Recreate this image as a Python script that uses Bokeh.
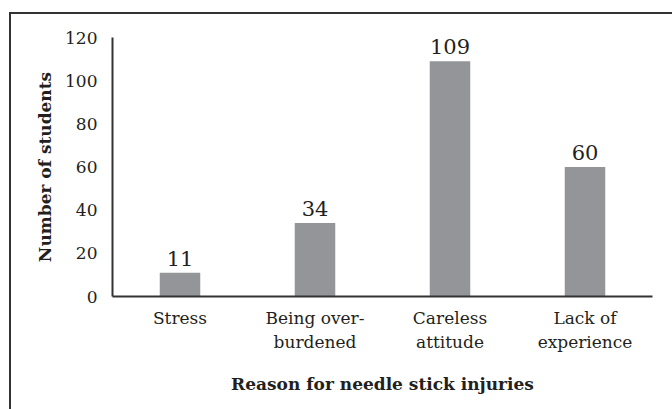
from bokeh.plotting import figure
from bokeh.models import ColumnDataSource, FactorRange, InlineStyleSheet
from bokeh.core.properties import value
from bokeh.embed import file_html
from bokeh.resources import INLINE

categories = ["Stress", "Being over-\nburdened", "Careless\nattitude", "Lack of\nexperience"]
counts = [11, 34, 109, 60]
y_ticks = [0, 20, 40, 60, 80, 100, 120]

FONT = "DejaVu Serif"
TXT = "#231f20"

src = ColumnDataSource(dict(cat=categories, n=counts, lbl=[str(v) for v in counts]))

p = figure(width=672, height=409, x_range=FactorRange(*categories, range_padding=0),
           y_range=(0, 120), output_backend="svg", toolbar_location=None,
           min_border_left=112, min_border_right=20, min_border_top=37, min_border_bottom=113)
p.outline_line_color = None
p.grid.grid_line_color = None
p.background_fill_color = "white"
p.border_fill_color = "white"

p.vbar(x="cat", top="n", width=0.30, source=src, fill_color="#939598", line_color=None)
p.text(x="cat", y="n", text="lbl", source=src, text_align="center", text_baseline="bottom",
       y_offset=-7, text_font=value(FONT), text_font_size="21px", text_color=TXT)

for ax in (p.xaxis[0], p.yaxis[0]):
    ax.axis_line_color = "#333333"
    ax.axis_line_width = 2
    ax.major_tick_line_color = None
    ax.minor_tick_line_color = None
    ax.major_tick_out = 0
    ax.major_tick_in = 0
    ax.major_label_text_font = FONT
    ax.major_label_text_font_size = "17px"
    ax.major_label_text_color = TXT
    ax.axis_label_text_font = FONT
    ax.axis_label_text_font_size = "17px"
    ax.axis_label_text_font_style = "bold"
    ax.axis_label_text_color = TXT

p.yaxis.ticker = y_ticks
p.yaxis.major_label_standoff = 15
p.yaxis.axis_label = "Number of students"
p.yaxis.axis_label_standoff = 7
p.xaxis.major_label_standoff = 11
p.xaxis.axis_label = "Reason for needle stick injuries"
p.xaxis.axis_label_standoff = 19

p.stylesheets = [InlineStyleSheet(css="""
:host { position: relative; }
:host::after {
  content: ""; position: absolute; left: 9px; top: 12px; right: -20px; bottom: -20px;
  border-top: 2.5px solid #333333; border-left: 2.5px solid #333333;
  pointer-events: none; z-index: 10;
}
""")]

open("out.html", "w").write(file_html(p, INLINE))
